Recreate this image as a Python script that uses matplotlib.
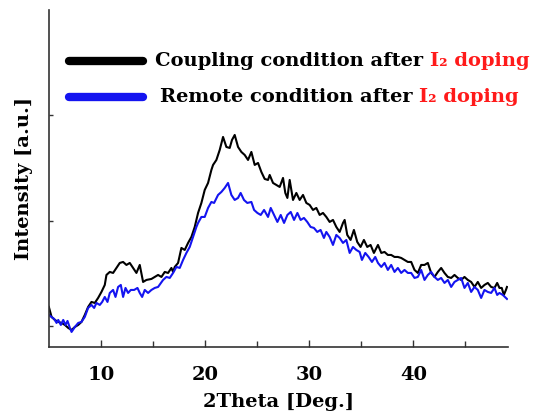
import matplotlib
matplotlib.use('Agg')
import matplotlib.pyplot as plt

# XRD traces (2theta in deg, intensity in a.u.)
coupling_x = [5.00, 5.26, 5.58, 5.90, 6.22, 6.54, 6.86, 7.18, 7.50, 7.82, 8.13, 8.45, 8.77, 9.09, 9.41,
              9.73, 10.05, 10.37, 10.53, 10.85, 11.17, 11.49, 11.81, 12.13, 12.45, 12.77, 13.09, 13.41,
              13.73, 14.05, 14.37, 14.85, 15.17, 15.49, 15.81, 16.13, 16.45, 16.77, 16.93, 17.09, 17.41,
              17.73, 18.05, 18.37, 18.69, 19.01, 19.33, 19.65, 19.97, 20.29, 20.61, 20.77, 21.09, 21.41,
              21.73, 22.05, 22.37, 22.59, 22.85, 23.17, 23.49, 23.81, 24.13, 24.45, 24.77, 25.09, 25.41,
              25.73, 26.05, 26.21, 26.53, 26.85, 27.17, 27.49, 27.71, 27.91, 28.13, 28.45, 28.77, 29.09,
              29.41, 29.73, 30.05, 30.37, 30.69, 31.01, 31.33, 31.65, 31.97, 32.29, 32.61, 32.93, 33.25,
              33.41, 33.66, 33.98, 34.30, 34.62, 34.94, 35.26, 35.58, 35.90, 36.22, 36.61, 36.93, 37.24,
              37.56, 37.88, 38.20, 38.52, 38.84, 39.16, 39.48, 39.80, 40.12, 40.44, 40.76, 41.08, 41.40,
              41.72, 42.04, 42.36, 42.68, 43.00, 43.32, 43.64, 43.96, 44.28, 44.60, 44.92, 45.24, 45.56,
              45.88, 46.20, 46.52, 46.84, 47.16, 47.48, 47.80, 48.06, 48.28, 48.50, 48.70, 48.90, 49.00]
coupling_y = [119, 109, 106, 104, 103, 101, 98, 96, 99, 101, 104, 111, 119, 124, 123,
              128, 134, 141, 151, 154, 153, 158, 163, 164, 161, 163, 158, 153,
              161, 144, 146, 147, 149, 151, 149, 154, 153, 158, 154, 159, 163,
              178, 176, 183, 189, 199, 213, 223, 236, 243, 256, 261, 266, 276,
              289, 279, 278, 286, 291, 279, 274, 271, 266, 274, 261, 263, 254,
              247, 246, 251, 243, 241, 239, 248, 233, 228, 246, 226, 233, 226,
              231, 223, 221, 216, 218, 211, 213, 209, 204, 206, 199, 194, 203,
              206, 191, 186, 196, 184, 179, 186, 179, 181, 173, 181, 173, 174,
              171, 171, 169, 169, 168, 166, 164, 164, 156, 153, 161, 161, 163,
              153, 149, 154, 158, 153, 149, 148, 151, 148, 146, 149, 146, 144,
              139, 144, 138, 141, 143, 139, 138, 143, 138, 138, 131, 136, 139]

remote_x = [5.00, 5.26, 5.51, 5.74, 5.90, 6.15, 6.38, 6.60, 6.79, 7.02, 7.18, 7.50, 7.82, 8.13, 8.45,
            8.77, 9.09, 9.35, 9.57, 9.89, 10.12, 10.37, 10.63, 10.85, 11.17, 11.40, 11.65, 11.91,
            12.13, 12.36, 12.61, 12.87, 13.19, 13.51, 13.73, 13.96, 14.21, 14.53, 14.85, 15.17, 15.49,
            15.97, 16.29, 16.61, 16.93, 17.25, 17.57, 17.89, 18.21, 18.53, 18.85, 19.17, 19.33, 19.65,
            19.97, 20.29, 20.61, 20.87, 21.25, 21.57, 21.89, 22.21, 22.53, 22.85, 23.17, 23.42, 23.74,
            24.06, 24.45, 24.71, 25.03, 25.35, 25.67, 26.05, 26.31, 26.63, 26.95, 27.27, 27.59, 27.91,
            28.23, 28.55, 28.87, 29.18, 29.50, 29.82, 30.14, 30.46, 30.78, 31.10, 31.42, 31.65, 31.97,
            32.29, 32.61, 32.93, 33.25, 33.57, 33.89, 34.21, 34.53, 34.85, 35.07, 35.39, 35.71, 36.03,
            36.35, 36.61, 36.93, 37.24, 37.56, 37.88, 38.20, 38.52, 38.84, 39.16, 39.48, 39.80, 40.12,
            40.44, 40.76, 41.08, 41.40, 41.72, 42.04, 42.36, 42.68, 43.00, 43.32, 43.64, 43.96, 44.28,
            44.60, 44.92, 45.24, 45.56, 45.88, 46.20, 46.52, 46.84, 47.16, 47.48, 47.80, 48.06, 48.28,
            48.60, 49.00]
remote_y = [111, 109, 107, 103, 106, 101, 106, 101, 105, 98, 94, 99, 103, 104, 109,
            118, 121, 118, 123, 121, 124, 129, 124, 133, 136, 129, 139, 141,
            129, 138, 133, 136, 136, 138, 133, 129, 136, 133, 136, 138, 139,
            146, 149, 148, 153, 159, 158, 166, 173, 179, 189, 199, 203, 209,
            209, 218, 224, 223, 231, 234, 238, 243, 231, 226, 228, 233, 226,
            223, 224, 216, 213, 211, 216, 209, 218, 211, 204, 211, 203, 211,
            214, 206, 213, 206, 208, 204, 199, 198, 194, 196, 188, 194, 189,
            181, 191, 188, 183, 186, 173, 179, 176, 174, 166, 173, 169, 164,
            169, 163, 159, 163, 156, 161, 154, 158, 153, 156, 153, 153, 148,
            149, 156, 146, 151, 154, 149, 146, 148, 143, 146, 139, 144, 146,
            148, 138, 143, 134, 139, 136, 128, 136, 134, 133, 138, 131, 133,
            131, 127]

x_ticks = [10, 20, 30, 40]
y_ticks = [100, 205, 311]

plt.rcParams['font.family'] = ['DejaVu Serif']
plt.rcParams['font.weight'] = 'bold'
FS = 14

fig = plt.figure(figsize=(5.37, 4.15), dpi=100)
ax = fig.add_axes([0.091, 0.164, 0.855, 0.812])

ax.plot(coupling_x, coupling_y, color='black', lw=1.5)
ax.plot(remote_x, remote_y, color='#1414f0', lw=1.5)

ax.set_xlim(5, 49.1)
ax.set_ylim(79, 416)
ax.set_xticks(x_ticks)
ax.set_xticks([15, 25, 35, 45], minor=True)
ax.set_yticks(y_ticks)
ax.set_yticklabels([])
ax.tick_params(axis='both', which='both', direction='in', color='#333333')
ax.tick_params(axis='x', which='major', length=5, width=1, labelsize=FS, pad=14)
ax.tick_params(axis='x', which='minor', length=4, width=1)
ax.tick_params(axis='y', length=3, width=1)
for lbl in ax.get_xticklabels():
    lbl.set_fontweight('bold')

for side in ['top', 'right']:
    ax.spines[side].set_visible(False)
for side in ['left', 'bottom']:
    ax.spines[side].set_color('#333333')
    ax.spines[side].set_linewidth(1.2)

ax.set_xlabel('2Theta [Deg.]', fontsize=FS, fontweight='bold', labelpad=6)
ax.set_ylabel('Intensity [a.u.]', fontsize=FS, fontweight='bold', labelpad=8)

# hand-made legend with the red "I2 doping" part
legend_rows = [
    ('Coupling condition after ', 'black', 0.850, 0.231),
    ('Remote condition after ', '#1414f0', 0.741, 0.242),
]
for text, col, yy, tx in legend_rows:
    ax.plot([0.044, 0.205], [yy, yy], color=col, lw=6, solid_capstyle='round',
            transform=ax.transAxes, clip_on=False)
    t1 = ax.text(tx, yy, text, transform=ax.transAxes, fontsize=FS,
                 fontweight='bold', va='center', ha='left')
    ax.annotate('I\u2082 doping', xy=(1, 0), xycoords=t1, va='bottom', ha='left',
                fontsize=FS, fontweight='bold', color='#ff1a1a')

fig.savefig('out.png', dpi=100)
